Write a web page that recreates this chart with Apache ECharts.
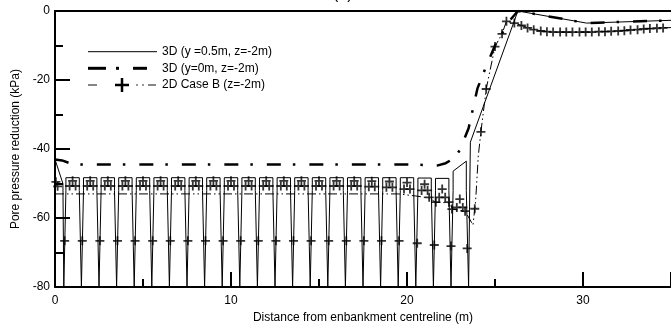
<!DOCTYPE html>
<html>
<head>
<meta charset="utf-8">
<script src="https://cdn.jsdelivr.net/npm/echarts@6/dist/echarts.min.js"></script>
<style>html,body{margin:0;padding:0;background:#fff}#c{width:671px;height:329px}</style>
</head>
<body>
<div id="c"></div>
<script>
// 3D (y = 0.5m, z = -2m) : thin solid line
const solid3D_y05 = [
[0,-43],[0.45,-50],[0.5,-80],
[0.62,-52],[0.62,-48.3],[1.38,-48.3],[1.38,-52],[1.5,-80],
[1.62,-52],[1.62,-48.3],[2.38,-48.3],[2.38,-52],[2.5,-80],
[2.62,-52],[2.62,-48.3],[3.38,-48.3],[3.38,-52],[3.5,-80],
[3.62,-52],[3.62,-48.3],[4.38,-48.3],[4.38,-52],[4.5,-80],
[4.62,-52],[4.62,-48.3],[5.38,-48.3],[5.38,-52],[5.5,-80],
[5.62,-52],[5.62,-48.3],[6.38,-48.3],[6.38,-52],[6.5,-80],
[6.62,-52],[6.62,-48.3],[7.38,-48.3],[7.38,-52],[7.5,-80],
[7.62,-52],[7.62,-48.3],[8.38,-48.3],[8.38,-52],[8.5,-80],
[8.62,-52],[8.62,-48.3],[9.38,-48.3],[9.38,-52],[9.5,-80],
[9.62,-52],[9.62,-48.3],[10.38,-48.3],[10.38,-52],[10.5,-80],
[10.62,-52],[10.62,-48.3],[11.38,-48.3],[11.38,-52],[11.5,-80],
[11.62,-52],[11.62,-48.3],[12.38,-48.3],[12.38,-52],[12.5,-80],
[12.62,-52],[12.62,-48.3],[13.38,-48.3],[13.38,-52],[13.5,-80],
[13.62,-52],[13.62,-48.3],[14.38,-48.3],[14.38,-52],[14.5,-80],
[14.62,-52],[14.62,-48.3],[15.38,-48.3],[15.38,-52],[15.5,-80],
[15.62,-52],[15.62,-48.3],[16.38,-48.3],[16.38,-52],[16.5,-80],
[16.62,-52],[16.62,-48.3],[17.38,-48.3],[17.38,-52],[17.5,-80],
[17.62,-52],[17.62,-48.3],[18.38,-48.3],[18.38,-52],[18.5,-80],
[18.62,-52],[18.62,-48.3],[19.38,-48.3],[19.38,-52],[19.5,-80],
[19.62,-52],[19.62,-48.3],[20.38,-48.3],[20.38,-52],[20.5,-80],
[20.62,-52],[20.62,-48.4],[21.38,-48.4],[21.38,-52],[21.5,-80],
[21.62,-52],[21.62,-48.5],[22.38,-48.5],[22.38,-52],[22.5,-80],
[22.62,-52],[22.62,-46.4],[23.37,-43.5],[23.37,-52],[23.5,-80],
[23.6,-80],[23.6,-38],[26.3,0],[30.2,-3.5],[35,-2.7]
];

// 3D (y = 0m, z = -2m) : thick dash-dot line
const dashDot3D_y0 = [
[0,-43],[0.4,-43.3],[0.9,-44.2],[1.5,-44.5],[10,-44.5],[20,-44.5],[21,-44.6],
[21.7,-44.8],[22.2,-44.1],[22.7,-42.6],[23.0,-40.3],[23.5,-34],[24.0,-22.5],
[24.5,-16],[25.0,-10],[25.8,-3],[26.3,0],[30.2,-3.5],[35,-2.7]
];

// 2D Case B (z = -2m) : thin dash line
const line2D_caseB = [
[0,-53],[19.5,-53],[20.5,-53.6],[21.3,-54.2],[21.6,-55.4],[22.4,-55.6],[22.6,-57.4],
[23.3,-58],[23.75,-62],[23.9,-55],[24.05,-42],[24.2,-35],[24.5,-22.6],[25.0,-10.3],
[25.4,-6.6],[25.65,-3],[26.1,-3.5],[26.5,-4.2],[27,-5],[27.5,-5.7],[28,-6],[29,-6.1],
[30,-6.1],[31,-6],[32,-5.8],[33,-5.4],[34,-5],[35,-4.8]
];

// 2D Case B (z = -2m) : "+" markers
const markers2D_caseB = [
[0.05,-49.5],[0.15,-50.8],
[0.55,-66.6],[1.55,-66.6],[2.55,-66.6],[3.55,-66.6],[4.55,-66.6],[5.55,-66.6],
[6.55,-66.6],[7.55,-66.6],[8.55,-66.6],[9.55,-66.6],[10.55,-66.6],[11.55,-66.6],
[12.55,-66.6],[13.55,-66.6],[14.55,-66.6],[15.55,-66.6],[16.55,-66.6],[17.55,-66.6],
[18.55,-66.6],[19.55,-66.6],[20.58,-67.3],[21.55,-67.8],[22.5,-68.1],[23.42,-68.8],
[0.83,-50.7],[1,-49.2],[1.17,-50.7],
[1.83,-50.7],[2,-49.2],[2.17,-50.7],
[2.83,-50.7],[3,-49.2],[3.17,-50.7],
[3.83,-50.7],[4,-49.2],[4.17,-50.7],
[4.83,-50.7],[5,-49.2],[5.17,-50.7],
[5.83,-50.7],[6,-49.2],[6.17,-50.7],
[6.83,-50.7],[7,-49.2],[7.17,-50.7],
[7.83,-50.7],[8,-49.2],[8.17,-50.7],
[8.83,-50.7],[9,-49.2],[9.17,-50.7],
[9.83,-50.7],[10,-49.2],[10.17,-50.7],
[10.83,-50.7],[11,-49.2],[11.17,-50.7],
[11.83,-50.7],[12,-49.2],[12.17,-50.7],
[12.83,-50.7],[13,-49.2],[13.17,-50.7],
[13.83,-50.7],[14,-49.2],[14.17,-50.7],
[14.83,-50.7],[15,-49.2],[15.17,-50.7],
[15.83,-50.7],[16,-49.2],[16.17,-50.7],
[16.83,-50.7],[17,-49.2],[17.17,-50.7],
[17.83,-50.9],[18,-49.3],[18.17,-50.9],
[18.83,-51.1],[19,-49.4],[19.17,-51.1],
[19.83,-51.6],[20,-49.7],[20.17,-51.6],
[20.83,-52],[21,-50.2],[21.17,-52],
[21.83,-54],[22,-51.6],[22.17,-54],
[22.83,-56.9],[23,-54.5],[23.17,-56.9],
[21.26,-54],[21.64,-55.4],[22.38,-55.4],[22.55,-57.4],[23.3,-58],
[23.85,-57.3],[24.2,-35],[24.5,-22.6],[25.0,-10.3],[25.4,-6.6],[25.65,-3],[26.1,-3.5],
[26.5,-4.2],[26.85,-4.9],[27.2,-5.4],[27.6,-5.8],[27.95,-6],[28.3,-6.1],[28.7,-6.1],
[29.05,-6.1],[29.4,-6.1],[29.8,-6.1],[30.15,-6.1],[30.5,-6.1],[30.9,-6],[31.25,-6],
[31.6,-5.9],[32,-5.8],[32.35,-5.7],[32.7,-5.5],[33.1,-5.4],[33.45,-5.2],[33.8,-5.1],
[34.2,-5],[34.55,-4.9]
];

const legendLabels = ['3D (y =0.5m, z=-2m)', '3D (y=0m, z=-2m)', '2D Case B (z=-2m)'];
const xName = 'Distance from enbankment centreline (m)';
const yName = 'Pore pressure reduction (kPa)';
const titleText = '(a)';

const FONT = '"Liberation Sans", Arial, Helvetica, sans-serif';
const PLUS = 'path://M4,0H6V4H10V6H6V10H4V6H0V4H4Z';

const chart = echarts.init(document.getElementById('c'), null, {renderer: 'canvas'});
chart.setOption({
  animation: false,
  backgroundColor: '#fff',
  textStyle: {fontFamily: FONT},
  grid: {left: 55, width: 625, top: 11, bottom: 38, containLabel: false},
  xAxis: [{
    type: 'value', min: 0, max: 35, interval: 10,
    axisLine: {onZero: false, lineStyle: {color: '#000', width: 2}},
    axisTick: {inside: true, length: 15, lineStyle: {color: '#000', width: 2}},
    minorTick: {show: true, splitNumber: 2, length: 8, lineStyle: {color: '#000', width: 2}},
    splitLine: {show: false}, minorSplitLine: {show: false},
    axisLabel: {color: '#000', fontSize: 12, margin: 8, fontFamily: FONT, showMaxLabel: false},
    name: xName, nameLocation: 'middle', nameGap: 20,
    nameTextStyle: {color: '#000', fontSize: 12, fontFamily: FONT}
  }, {
    type: 'value', position: 'top', min: 0, max: 35,
    axisLine: {onZero: false, lineStyle: {color: '#000', width: 2}},
    axisTick: {show: false}, axisLabel: {show: false}, splitLine: {show: false}
  }],
  yAxis: {
    type: 'value', min: -80, max: 0, interval: 20,
    axisLine: {onZero: false, lineStyle: {color: '#000', width: 2}},
    axisTick: {inside: true, length: 15, lineStyle: {color: '#000', width: 2}},
    minorTick: {show: true, splitNumber: 2, length: 8, lineStyle: {color: '#000', width: 2}},
    splitLine: {show: false}, minorSplitLine: {show: false},
    axisLabel: {color: '#000', fontSize: 12, margin: 5, fontFamily: FONT},
    name: yName, nameLocation: 'middle', nameGap: 31,
    nameTextStyle: {color: '#000', fontSize: 12, fontFamily: FONT}
  },
  series: [
    {name: legendLabels[0], type: 'line', data: solid3D_y05, symbol: 'none',
     lineStyle: {color: '#000', width: 1}},
    {name: legendLabels[1], type: 'line', data: dashDot3D_y0, symbol: 'none',
     lineStyle: {color: '#000', width: 2.5, type: [14, 12, 2.5, 14]}},
    {name: legendLabels[2], type: 'line', data: line2D_caseB, symbol: 'none',
     lineStyle: {color: '#000', width: 1, type: [9, 3, 1.5, 3, 1.5, 3]}},
    {name: legendLabels[2], type: 'scatter', data: markers2D_caseB, symbol: PLUS,
     symbolSize: 9, itemStyle: {color: '#000'}}
  ],
  graphic: [
    {type: 'text', x: 333, y: -13, style: {text: titleText, font: '16px ' + FONT, fill: '#000', verticalAlign: 'top'}},
    {type: 'line', shape: {x1: 88, y1: 51.7, x2: 157, y2: 51.7}, style: {stroke: '#000', lineWidth: 1}},
    {type: 'line', shape: {x1: 88, y1: 68.3, x2: 106, y2: 68.3}, style: {stroke: '#000', lineWidth: 3}},
    {type: 'line', shape: {x1: 116, y1: 68.3, x2: 119, y2: 68.3}, style: {stroke: '#000', lineWidth: 3}},
    {type: 'line', shape: {x1: 133, y1: 68.3, x2: 147, y2: 68.3}, style: {stroke: '#000', lineWidth: 3}},
    {type: 'line', shape: {x1: 88, y1: 85, x2: 97, y2: 85}, style: {stroke: '#333', lineWidth: 1.2}},
    {type: 'line', shape: {x1: 115, y1: 85, x2: 129, y2: 85}, style: {stroke: '#000', lineWidth: 2.5}},
    {type: 'line', shape: {x1: 122, y1: 78, x2: 122, y2: 92}, style: {stroke: '#000', lineWidth: 2.5}},
    {type: 'line', shape: {x1: 136, y1: 85, x2: 138, y2: 85}, style: {stroke: '#333', lineWidth: 1.2}},
    {type: 'line', shape: {x1: 142, y1: 85, x2: 144, y2: 85}, style: {stroke: '#333', lineWidth: 1.2}},
    {type: 'line', shape: {x1: 148, y1: 85, x2: 156, y2: 85}, style: {stroke: '#333', lineWidth: 1.2}},
    {type: 'text', x: 162, y: 51.7, style: {text: legendLabels[0], font: '12px ' + FONT, fill: '#000', verticalAlign: 'middle'}},
    {type: 'text', x: 162, y: 68.3, style: {text: legendLabels[1], font: '12px ' + FONT, fill: '#000', verticalAlign: 'middle'}},
    {type: 'text', x: 162, y: 85, style: {text: legendLabels[2], font: '12px ' + FONT, fill: '#000', verticalAlign: 'middle'}}
  ]
});
</script>
</body>
</html>
